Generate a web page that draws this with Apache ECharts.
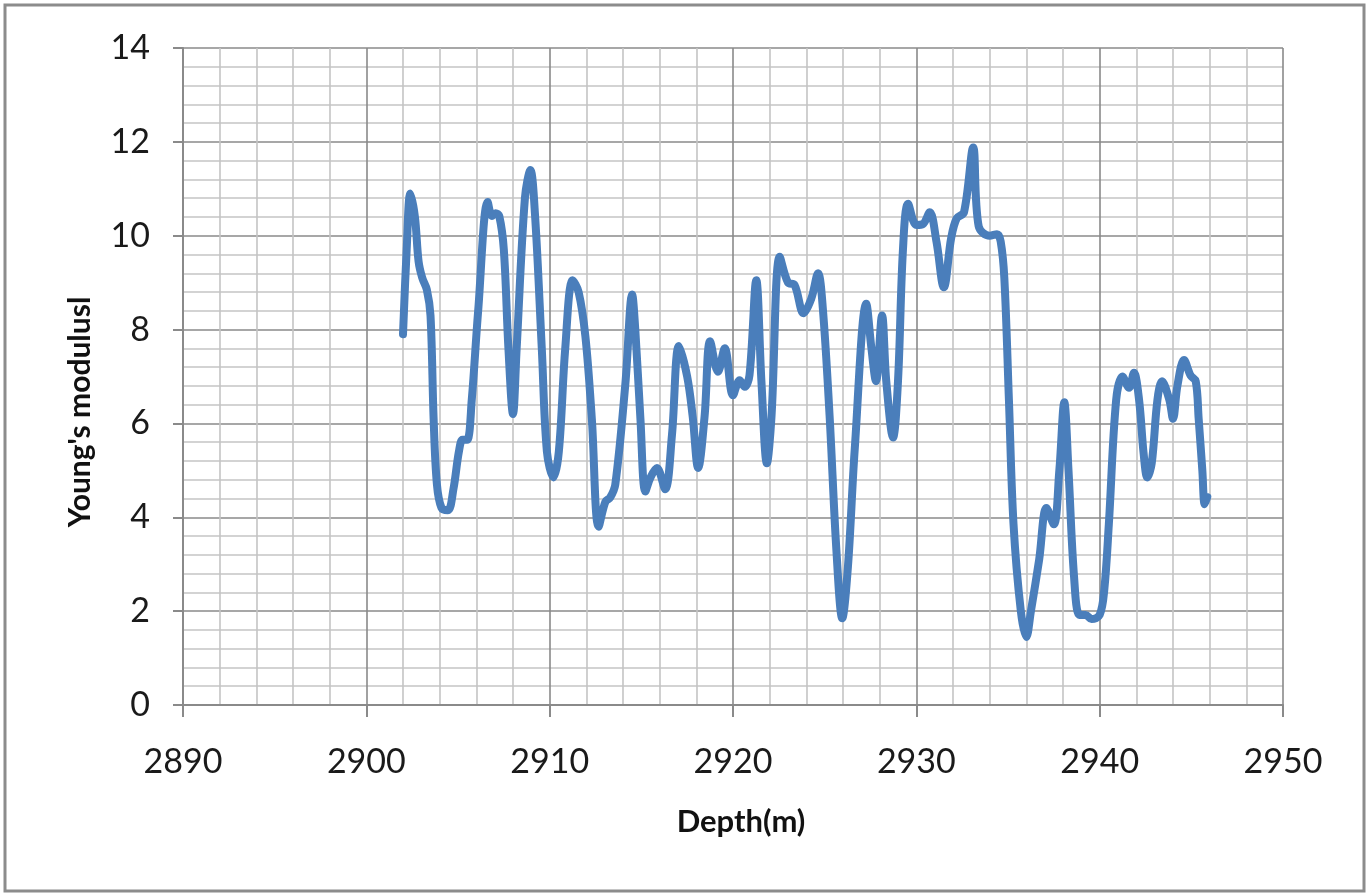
<!DOCTYPE html>
<html>
<head>
<meta charset="utf-8">
<title>Young's modulus vs depth</title>
<script src="https://cdn.jsdelivr.net/npm/echarts@6/dist/echarts.min.js"></script>
<style>
  html, body { margin: 0; padding: 0; background: #ffffff; }
  #chart { width: 1371px; height: 894px; }
</style>
</head>
<body>
<div id="chart"></div>
<script>
// Well log profile: depth (m) and Young's modulus along the interval
const depth = [
  2902.0, 2902.2, 2902.4, 2902.65, 2902.85, 2903.05, 2903.3, 2903.5, 2903.67, 2903.85,
  2904.1, 2904.45, 2904.75, 2905.05, 2905.25, 2905.5, 2905.75, 2906.1, 2906.62, 2906.85,
  2907.05, 2907.25, 2907.5, 2907.75, 2908.0, 2908.2, 2908.65, 2908.95, 2909.2, 2909.57,
  2909.85, 2910.2, 2910.5, 2910.85, 2911.25, 2911.58, 2911.95, 2912.3, 2912.67, 2913.04,
  2913.3, 2913.58, 2914.13, 2914.5, 2914.67, 2914.95, 2915.22, 2915.5, 2915.85, 2916.3,
  2916.67, 2917.05, 2917.5, 2917.8, 2918.1, 2918.45, 2918.75, 2919.18, 2919.55, 2920.0,
  2920.36, 2920.64, 2920.9, 2921.27, 2921.55, 2921.85, 2922.1, 2922.55, 2923.0, 2923.36,
  2923.85, 2924.27, 2924.64, 2924.9, 2925.27, 2925.64, 2925.96, 2926.27, 2926.64, 2927.27,
  2927.55, 2927.8, 2928.13, 2928.36, 2928.73, 2929.0, 2929.27, 2929.55, 2930.0, 2930.36,
  2930.73, 2931.1, 2931.5, 2931.9, 2932.2, 2932.6, 2933.1, 2933.4, 2934.0, 2934.4,
  2934.6, 2934.8, 2935.05, 2935.3, 2935.7, 2936.0, 2936.25, 2936.7, 2937.1, 2937.5,
  2937.8, 2938.07, 2938.3, 2938.6, 2938.9, 2939.24, 2939.56, 2940.0, 2940.25, 2940.5,
  2940.9, 2941.24, 2941.6, 2941.87, 2942.15, 2942.4, 2942.6, 2942.84, 2943.15, 2943.4,
  2943.8, 2944.0, 2944.24, 2944.6, 2944.96, 2945.24, 2945.4, 2945.6, 2945.73, 2945.87
];

const modulus = [
  7.9, 9.7, 10.9, 10.4, 9.45, 9.1, 8.85, 8.3, 6.1, 4.7,
  4.2, 4.15, 4.6, 5.4, 5.65, 5.65, 6.5, 8.4, 10.72, 10.42,
  10.48, 10.42, 9.7, 7.6, 6.2, 7.6, 10.8, 11.4, 10.45, 7.6,
  5.4, 4.85, 5.4, 7.6, 9.05, 8.8, 7.85, 6.1, 3.8, 4.33,
  4.42, 4.7, 6.85, 8.75, 8.0, 6.1, 4.55, 4.85, 5.05, 4.6,
  5.75, 7.65, 7.0, 6.15, 5.05, 6.15, 7.75, 7.1, 7.6, 6.6,
  6.92, 6.78, 7.03, 9.05, 6.9, 5.15, 6.15, 9.55, 9.0, 8.95,
  8.35, 8.66, 9.2, 8.45, 6.15, 3.3, 1.85, 2.95, 5.45, 8.55,
  7.6, 6.9, 8.3, 6.9, 5.7, 6.9, 9.7, 10.68, 10.23, 10.25,
  10.5, 9.87, 8.9, 9.95, 10.37, 10.5, 11.88, 10.2, 10.0, 10.03,
  9.88, 9.1, 6.5, 3.86, 2.0, 1.45, 2.0, 3.1, 4.2, 3.85,
  5.0, 6.45, 5.0, 2.75, 1.92, 1.92, 1.83, 1.92, 2.45, 3.85,
  6.5, 7.0, 6.76, 7.08, 6.5, 5.35, 4.85, 5.15, 6.5, 6.9,
  6.5, 6.1, 6.8, 7.35, 7.02, 6.9, 6.1, 5.0, 4.28, 4.43
];

// Axis ranges and tick spacing
const xRange = { min: 2890, max: 2950, step: 10 };
const yRange = { min: 0, max: 14, step: 2 };

const xTitle = 'Depth(m)';
const yTitle = "Young's modulusl";

const points = depth.map((d, i) => [d, modulus[i]]);

const FONT = 'Lato, "Open Sans", "DejaVu Sans", sans-serif';
const MAJOR = '#8a8a8a';
const MINOR = '#c4c4c4';

const chart = echarts.init(document.getElementById('chart'), null, { renderer: 'canvas' });

chart.setOption({
  backgroundColor: '#ffffff',
  animation: false,
  grid: { left: 183, right: 88, top: 48, bottom: 189, containLabel: false },
  xAxis: {
    type: 'value',
    min: xRange.min,
    max: xRange.max,
    interval: xRange.step,
    axisLine: { show: true, lineStyle: { color: MAJOR, width: 2 } },
    axisTick: { show: true, inside: false, length: 12, lineStyle: { color: MAJOR, width: 2 } },
    axisLabel: {
      color: '#1a1a1a', fontFamily: FONT, fontSize: 34, margin: 40,
      formatter: v => String(v)
    },
    splitLine: { show: true, lineStyle: { color: MAJOR, width: 1.6 } },
    minorTick: { show: false, splitNumber: 5 },
    minorSplitLine: { show: true, lineStyle: { color: MINOR, width: 1.6 } }
  },
  yAxis: {
    type: 'value',
    min: yRange.min,
    max: yRange.max,
    interval: yRange.step,
    axisLine: { show: true, onZero: false, lineStyle: { color: MAJOR, width: 2 } },
    axisTick: { show: true, inside: false, length: 10, lineStyle: { color: MAJOR, width: 2 } },
    axisLabel: {
      color: '#1a1a1a', fontFamily: FONT, fontSize: 34, margin: 33,
      formatter: v => String(v)
    },
    splitLine: { show: true, lineStyle: { color: MAJOR, width: 1.6 } },
    minorTick: { show: false, splitNumber: 5 },
    minorSplitLine: { show: true, lineStyle: { color: MINOR, width: 1.6 } }
  },
  graphic: [
    {
      type: 'rect',
      shape: { x: 5, y: 5, width: 1359, height: 886 },
      style: { fill: 'none', stroke: '#8c8c8c', lineWidth: 3 },
      silent: true,
      z: -10
    },
    {
      type: 'text',
      x: 741,
      y: 822,
      style: {
        text: xTitle,
        fontFamily: FONT,
        fontWeight: 'bold',
        fontSize: 31,
        fill: '#111111',
        align: 'center',
        verticalAlign: 'middle'
      }
    },
    {
      type: 'text',
      x: 80,
      y: 412,
      rotation: Math.PI / 2,
      style: {
        text: yTitle,
        fontFamily: FONT,
        fontWeight: 'bold',
        fontSize: 30,
        fill: '#111111',
        align: 'center',
        verticalAlign: 'middle'
      }
    }
  ],
  series: [
    {
      type: 'line',
      data: points,
      smooth: 0.35,
      showSymbol: false,
      symbol: 'none',
      lineStyle: { color: '#4A7EBB', width: 8, cap: 'round', join: 'round' },
      z: 5
    }
  ]
});
</script>
</body>
</html>
